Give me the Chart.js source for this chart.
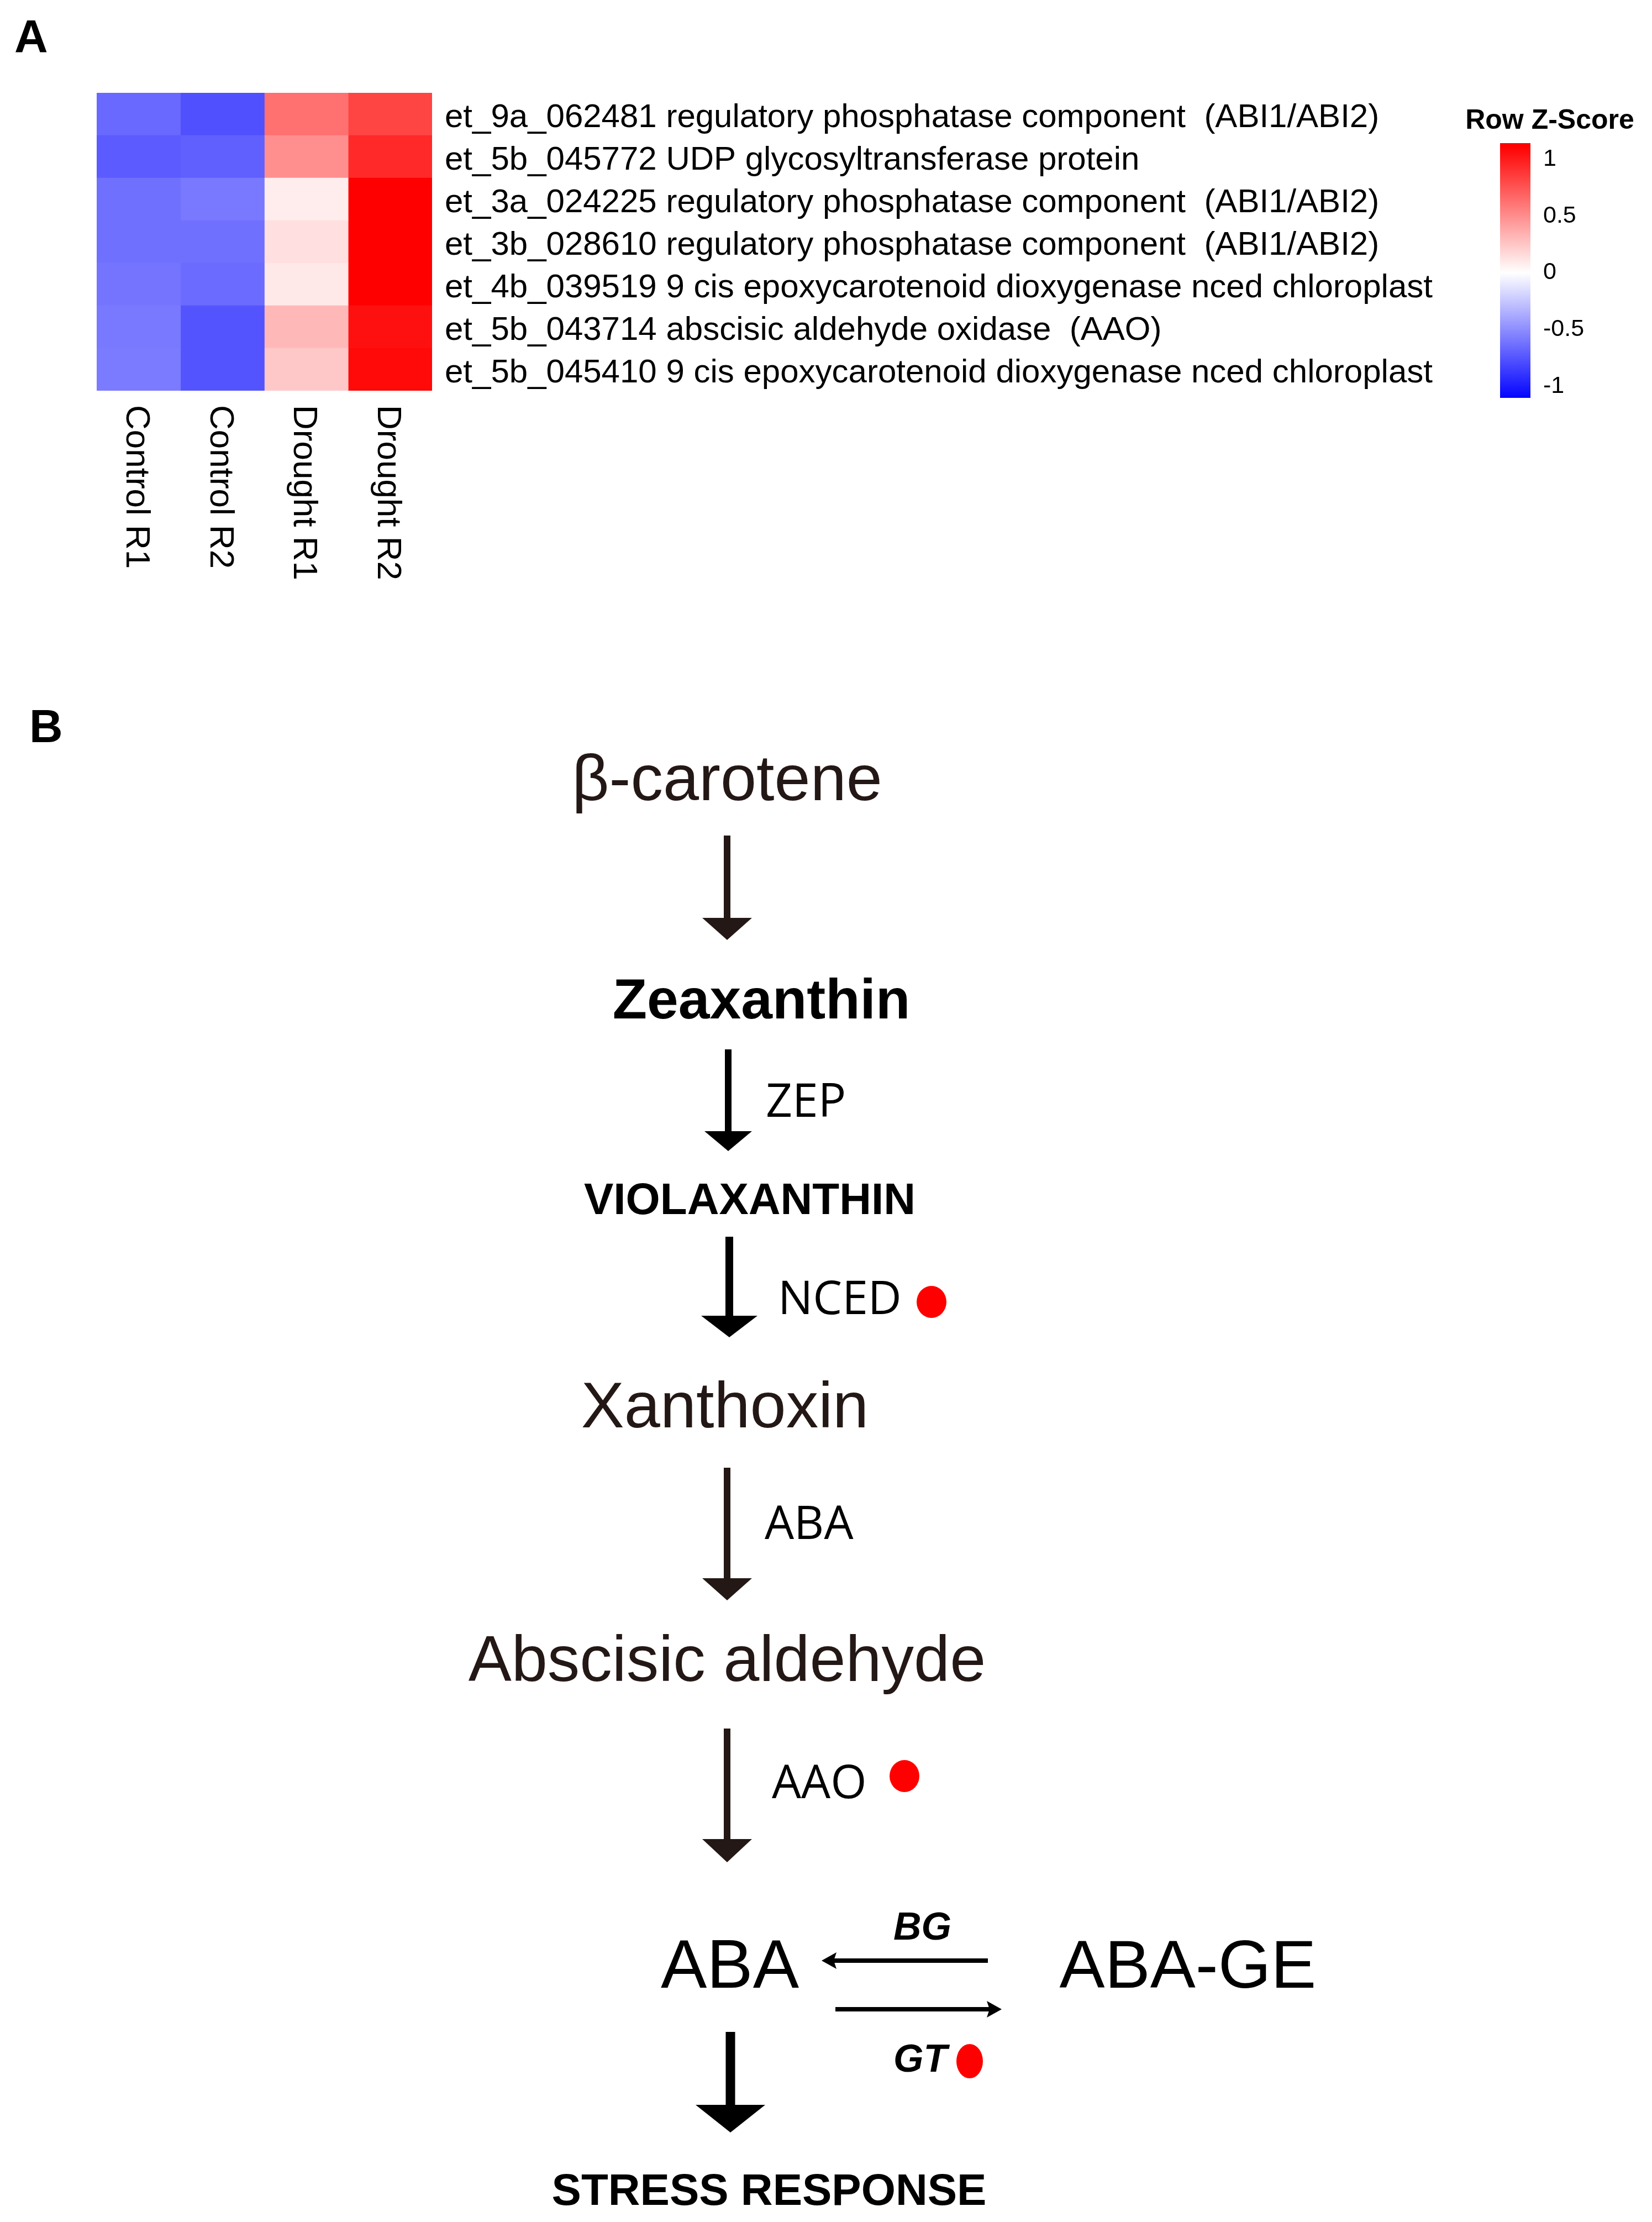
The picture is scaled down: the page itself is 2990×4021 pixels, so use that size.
<!DOCTYPE html>
<html>
<head>
<meta charset="utf-8">
<script src="https://cdn.jsdelivr.net/npm/chart.js@4.4.1/dist/chart.umd.min.js"></script>
<style>
  html, body { margin: 0; padding: 0; background: #fff; }
  #wrap { position: relative; width: 2990px; height: 4021px; }
  canvas { position: absolute; }
</style>
</head>
<body>
<div id="wrap">
  <canvas id="heatmap" width="2990" height="4021" style="left:0;top:0;width:2990px;height:4021px"></canvas>
  <canvas id="zscale" width="370" height="620" style="left:2620px;top:150px;width:370px;height:620px"></canvas>
</div>
<script>
// heatmap data (row z-scores)
const samples = ['Control R1', 'Control R2', 'Drought R1', 'Drought R2'];
const genes = [
  'et_9a_062481 regulatory phosphatase component  (ABI1/ABI2)',
  'et_5b_045772 UDP glycosyltransferase protein',
  'et_3a_024225 regulatory phosphatase component  (ABI1/ABI2)',
  'et_3b_028610 regulatory phosphatase component  (ABI1/ABI2)',
  'et_4b_039519 9 cis epoxycarotenoid dioxygenase nced chloroplast',
  'et_5b_043714 abscisic aldehyde oxidase  (AAO)',
  'et_5b_045410 9 cis epoxycarotenoid dioxygenase nced chloroplast'
];
const controlR1 = [-0.66, -0.72, -0.63, -0.63, -0.61, -0.59, -0.58];
const controlR2 = [-0.77, -0.70, -0.59, -0.63, -0.65, -0.75, -0.75];
const droughtR1 = [0.63, 0.49, 0.08, 0.14, 0.10, 0.31, 0.24];
const droughtR2 = [0.82, 0.94, 1.14, 1.12, 1.16, 1.05, 1.08];
const zTicks = [-1, -0.5, 0, 0.5, 1];

// pathway panel text
const pathwaySteps = ['β-carotene', 'Zeaxanthin', 'VIOLAXANTHIN', 'Xanthoxin', 'Abscisic aldehyde', 'ABA', 'ABA-GE', 'STRESS RESPONSE'];
const enzymes = ['ZEP', 'NCED', 'ABA', 'AAO', 'BG', 'GT'];

const sans = '"Liberation Sans", Arial, sans-serif';
const enzFont = '"Open Sans", "Noto Sans", sans-serif';
const brown = '#231815';
const zSat = 1.12;   // colour saturates here (legend bar end)

function zColor(v) {
  const f = Math.min(Math.abs(v) / zSat, 1);
  const c = Math.round(255 * (1 - f));
  return v >= 0 ? `rgb(255,${c},${c})` : `rgb(${c},${c},255)`;
}

// layout of panel B
const stepLayout = [
  { i: 0, x: 1316, y: 1448, font: `117px ${sans}`, color: brown },
  { i: 1, x: 1378, y: 1843, font: `bold 102px ${sans}`, color: '#000' },
  { i: 2, x: 1357, y: 2197, font: `bold 80px ${sans}`, color: '#000' },
  { i: 3, x: 1312, y: 2583, font: `117px ${sans}`, color: brown },
  { i: 4, x: 1316, y: 3042, font: `117px ${sans}`, color: brown },
  { i: 5, x: 1321, y: 3597, font: `125px ${sans}`, color: '#000' },
  { i: 6, x: 2150, y: 3597, font: `123px ${sans}`, color: '#000' },
  { i: 7, x: 1392, y: 3990, font: `bold 80px ${sans}`, color: '#000' }
];
const enzLayout = [
  { i: 0, x: 1386, y: 2021, font: `84px ${enzFont}` },
  { i: 1, x: 1408, y: 2378, font: `84px ${enzFont}`, dot: [1686, 2356, 27, 29] },
  { i: 2, x: 1384, y: 2785, font: `84px ${enzFont}` },
  { i: 3, x: 1397, y: 3254, font: `84px ${enzFont}`, dot: [1637, 3214, 27, 29] },
  { i: 4, x: 1617, y: 3510, font: `italic bold 70px ${sans}` },
  { i: 5, x: 1617, y: 3749, font: `italic bold 70px ${sans}`, dot: [1755, 3730, 24, 31] }
];
const downArrows = [
  { x: 1316, y0: 1512, tip: 1701, head: 40, lw: 12, hw: 90, color: brown },
  { x: 1318, y0: 1899, tip: 2083, head: 36, lw: 12, hw: 86, color: '#000' },
  { x: 1320, y0: 2238, tip: 2420, head: 39, lw: 14, hw: 102, color: '#000' },
  { x: 1316, y0: 2656, tip: 2896, head: 40, lw: 12, hw: 90, color: brown },
  { x: 1316, y0: 3128, tip: 3370, head: 42, lw: 12, hw: 90, color: brown },
  { x: 1322, y0: 3677, tip: 3859, head: 50, lw: 17, hw: 126, color: '#000' }
];
const sideArrows = [
  { y: 3548, x0: 1788, tip: 1487 },
  { y: 3636, x0: 1512, tip: 1813 }
];

const decorPlugin = {
  id: 'decor',
  afterDraw(chart) {
    const ctx = chart.ctx;
    const xs = chart.scales.x;
    ctx.save();
    ctx.fillStyle = '#000';
    ctx.textBaseline = 'alphabetic';

    // panel letters
    ctx.font = `bold 84px ${sans}`;
    ctx.textAlign = 'left';
    ctx.fillText('A', 26, 95);
    ctx.fillText('B', 53, 1343);

    // sample names, rotated to read downwards
    ctx.font = `62px ${sans}`;
    samples.forEach((s, i) => {
      const cx = xs.getPixelForValue(i + 0.5);
      ctx.save();
      ctx.translate(cx - 22, 733);
      ctx.rotate(Math.PI / 2);
      ctx.fillText(s, 0, 0);
      ctx.restore();
    });

    // pathway arrows
    ctx.lineCap = 'butt';
    downArrows.forEach(a => {
      ctx.strokeStyle = a.color;
      ctx.fillStyle = a.color;
      ctx.lineWidth = a.lw;
      ctx.beginPath();
      ctx.moveTo(a.x, a.y0);
      ctx.lineTo(a.x, a.tip - a.head + 2);
      ctx.stroke();
      ctx.beginPath();
      ctx.moveTo(a.x - a.hw / 2, a.tip - a.head);
      ctx.lineTo(a.x + a.hw / 2, a.tip - a.head);
      ctx.lineTo(a.x, a.tip);
      ctx.closePath();
      ctx.fill();
    });
    ctx.strokeStyle = '#000';
    ctx.fillStyle = '#000';
    sideArrows.forEach(a => {
      const dir = a.tip > a.x0 ? 1 : -1;
      ctx.lineWidth = 8;
      ctx.beginPath();
      ctx.moveTo(a.x0, a.y);
      ctx.lineTo(a.tip - dir * 22, a.y);
      ctx.stroke();
      ctx.beginPath();
      ctx.moveTo(a.tip, a.y);
      ctx.lineTo(a.tip - dir * 27, a.y - 15);
      ctx.lineTo(a.tip - dir * 22, a.y);
      ctx.lineTo(a.tip - dir * 27, a.y + 15);
      ctx.closePath();
      ctx.fill();
    });

    // metabolites
    ctx.textAlign = 'center';
    stepLayout.forEach(s => {
      ctx.font = s.font;
      ctx.fillStyle = s.color;
      ctx.fillText(pathwaySteps[s.i], s.x, s.y);
    });

    // enzymes and up-regulation dots
    ctx.textAlign = 'left';
    enzLayout.forEach(e => {
      ctx.font = e.font;
      ctx.fillStyle = '#000';
      ctx.fillText(enzymes[e.i], e.x, e.y);
      if (e.dot) {
        ctx.fillStyle = '#ff0000';
        ctx.beginPath();
        ctx.ellipse(e.dot[0], e.dot[1], e.dot[2], e.dot[3], 0, 0, Math.PI * 2);
        ctx.fill();
      }
    });
    ctx.restore();
  }
};

// Heatmap: one stacked horizontal bar per sample, each cell one column wide
const series = [controlR1, controlR2, droughtR1, droughtR2];
new Chart(document.getElementById('heatmap'), {
  type: 'bar',
  data: {
    labels: genes,
    datasets: samples.map((s, i) => ({
      label: s,
      data: genes.map(() => 1),
      backgroundColor: series[i].map(zColor),
      borderWidth: 0,
      barPercentage: 1,
      categoryPercentage: 1
    }))
  },
  options: {
    indexAxis: 'y',
    responsive: false,
    animation: false,
    devicePixelRatio: 1,
    layout: { padding: { left: 175, top: 168, right: 0, bottom: 4021 - 707 } },
    plugins: { legend: { display: false }, tooltip: { enabled: false } },
    scales: {
      x: { type: 'linear', stacked: true, min: 0, max: 4, display: false },
      y: {
        stacked: true,
        position: 'right',
        grid: { display: false, drawTicks: false },
        border: { display: false },
        ticks: { color: '#000', autoSkip: false, padding: 23, labelOffset: 7, font: { family: sans, size: 60 } },
        afterFit(scale) { scale.width = 2990 - 782; }
      }
    }
  },
  plugins: [decorPlugin]
});

// Colour key title (drawn here so it can be wider than the bar)
const keyTitle = {
  id: 'keyTitle',
  afterDraw(chart) {
    const ctx = chart.ctx;
    ctx.save();
    ctx.font = `bold 50px ${sans}`;
    ctx.fillStyle = '#000';
    ctx.textAlign = 'center';
    ctx.textBaseline = 'alphabetic';
    ctx.fillText('Row Z-Score', 185, 83);
    ctx.restore();
  }
};

new Chart(document.getElementById('zscale'), {
  type: 'bar',
  data: {
    labels: ['z'],
    datasets: [{
      data: [[-1.10, 1.14]],
      borderWidth: 0,
      barPercentage: 1,
      categoryPercentage: 1,
      backgroundColor(c) {
        const chart = c.chart;
        if (!chart.chartArea) return '#fff';
        const y = chart.scales.y;
        const g = chart.ctx.createLinearGradient(0, y.getPixelForValue(zSat), 0, y.getPixelForValue(-zSat));
        g.addColorStop(0, '#ff0000');
        g.addColorStop(0.5, '#ffffff');
        g.addColorStop(1, '#0000ff');
        return g;
      }
    }]
  },
  options: {
    responsive: false,
    animation: false,
    devicePixelRatio: 1,
    layout: { padding: { left: 95, top: 109, right: 0, bottom: 50 } },
    plugins: { legend: { display: false }, tooltip: { enabled: false } },
    scales: {
      x: { display: false },
      y: {
        position: 'right',
        min: -1.10,
        max: 1.14,
        grid: { display: false, drawTicks: false },
        border: { display: false },
        afterBuildTicks(scale) { scale.ticks = zTicks.map(v => ({ value: v })); },
        ticks: { color: '#000', padding: 23, font: { family: sans, size: 43 }, callback: v => String(v) },
        afterFit(scale) { scale.width = 220; }
      }
    }
  },
  plugins: [keyTitle]
});
</script>
</body>
</html>
